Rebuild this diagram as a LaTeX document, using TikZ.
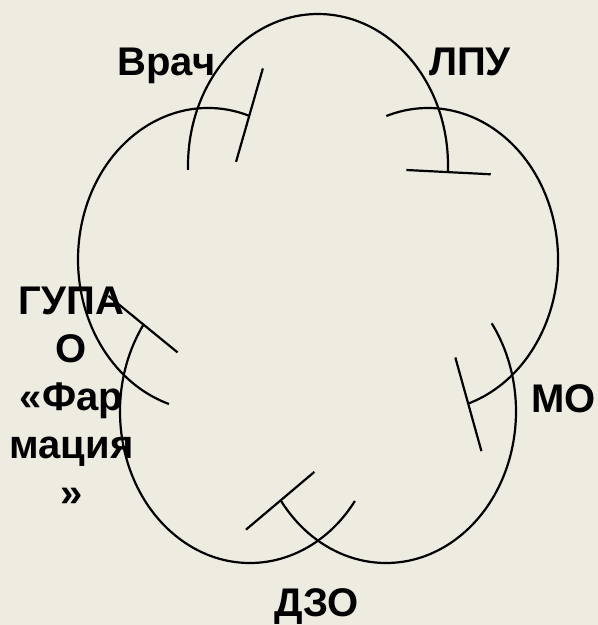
\documentclass[tikz,border=0pt]{standalone}
\usepackage{fontspec}
\setmainfont{Liberation Sans}
\usetikzlibrary{calc}
\definecolor{bgbeige}{HTML}{EEECE1}
\tikzset{
  lbl/.style={font=\bfseries\fontsize{40}{48}\selectfont, inner sep=0pt, text=black},
  arcline/.style={draw=black, line width=2.2pt},
}
\begin{document}
\begin{tikzpicture}[x=1pt,y=1pt]
\fill[bgbeige] (0,0) rectangle (598,625);
\useasboundingbox (0,0) rectangle (598,625);
% labels
\node[lbl, anchor=base] (vrach) at (166.5,549.4) {Врач};
\node[lbl, anchor=base] (lpu) at (470,549.4) {ЛПУ};
\node[lbl, anchor=base] (mo) at (563.5,212.3) {МО};
\node[lbl, anchor=base] (dzo) at (316.5,9) {ДЗО};
\node[lbl, anchor=north, align=center] (gupao) at (71.5,338) {ГУПА\\О\\«Фар\\мация\\»};
% circle centres
\coordinate (c1) at (318,459.5);
\coordinate (c2) at (428,365.5);
\coordinate (c3) at (386,213.5);
\coordinate (c4) at (250,213.5);
\coordinate (c5) at (208,365.5);
% arcs with radial ticks
\foreach \c/\ta/\tb in {c1/-2.5/181.7, c2/-72/108.7, c3/-144.1/35.6, c4/-215/-36.2, c5/71.5/252.5}{
  \draw[arcline] ($(\c)+(\ta:130 and 151.5)$) arc[start angle=\ta, end angle=\tb, x radius=130, y radius=151.5];
  \draw[arcline] ($(\c)+(\ta:88.4 and 103)$) -- ($(\c)+(\ta:172.9 and 201.5)$);
}
\end{tikzpicture}
\end{document}
